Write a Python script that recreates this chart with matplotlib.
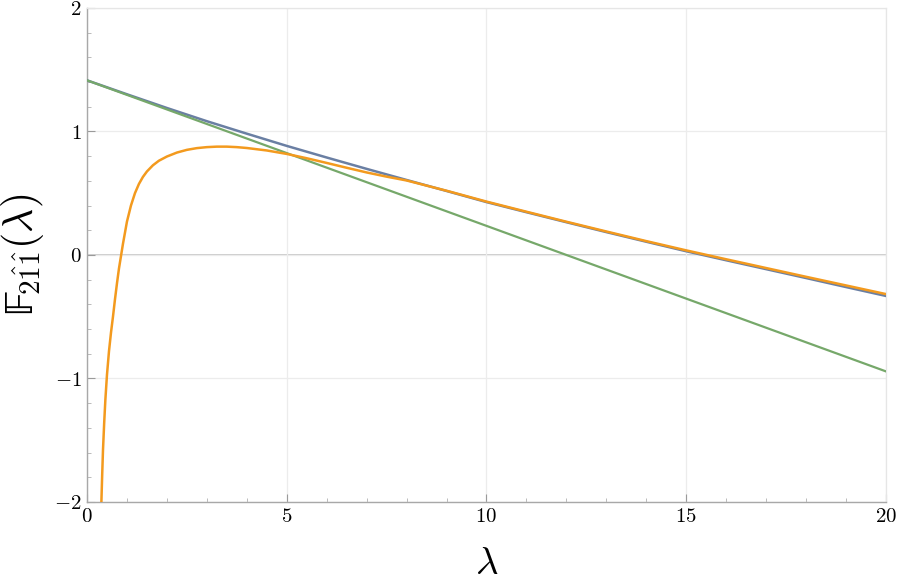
import numpy as np
import matplotlib.pyplot as plt
from matplotlib.ticker import MultipleLocator

plt.rcParams['mathtext.fontset'] = 'cm'
plt.rcParams['font.family'] = 'serif'
plt.rcParams['font.serif'] = ['DejaVu Serif']

# blue curve
x_blue = [0, 1, 2, 3, 4, 5, 6, 7, 8, 9, 10, 11, 12, 13, 14, 15, 16, 17, 18, 19, 20]
y_blue = [1.414, 1.301, 1.190, 1.083, 0.982, 0.883, 0.789, 0.697, 0.607, 0.518, 0.428,
          0.346, 0.265, 0.185, 0.107, 0.030, -0.043, -0.115, -0.187, -0.260, -0.332]

# orange curve
x_orange = [0.36, 0.38, 0.40, 0.43, 0.46, 0.50, 0.55, 0.60, 0.65, 0.70, 0.75, 0.80, 0.85,
            0.90, 0.95, 1.0, 1.1, 1.2, 1.3, 1.4, 1.5, 1.65, 1.8, 2.0, 2.25, 2.5, 2.75, 3.0,
            3.25, 3.5, 3.75, 4.0, 4.5, 5.0, 5.5, 6.0, 6.5, 7.0, 7.5, 8.0, 9.0, 10, 11, 12,
            13, 14, 15, 16, 17, 18, 19, 20]
y_orange = [-2.0, -1.78, -1.58, -1.36, -1.17, -0.97, -0.78, -0.63, -0.50, -0.36, -0.23,
            -0.11, -0.01, 0.09, 0.18, 0.27, 0.40, 0.50, 0.575, 0.632, 0.676, 0.726, 0.763,
            0.797, 0.829, 0.851, 0.865, 0.873, 0.877, 0.877, 0.873, 0.866, 0.846, 0.818,
            0.783, 0.745, 0.706, 0.668, 0.634, 0.603, 0.520, 0.432, 0.350, 0.269, 0.190,
            0.112, 0.037, -0.035, -0.106, -0.177, -0.247, -0.317]

# green line
x_green = [0, 20]
y_green = [1.414, -0.943]

fig = plt.figure(figsize=(8.97, 5.85), dpi=100)
ax = fig.add_axes([0.097, 0.142, 0.8907, 0.8444])

ax.plot(x_blue, y_blue, color='#6a7fa3', lw=1.8, zorder=3)
ax.plot(x_green, y_green, color='#76a86a', lw=1.6, zorder=4)
ax.plot(x_orange, y_orange, color='#f39a1e', lw=1.8, zorder=5)

ax.set_xlim(0, 20)
ax.set_ylim(-2, 2)
ax.set_xticks([0, 5, 10, 15, 20])
ax.set_yticks([-2, -1, 0, 1, 2])
ax.set_xticklabels(['$0$', '$5$', '$10$', '$15$', '$20$'])
ax.set_yticklabels(['$-2$', '$-1$', '$0$', '$1$', '$2$'])
ax.xaxis.set_minor_locator(MultipleLocator(1))
ax.yaxis.set_minor_locator(MultipleLocator(0.2))
ax.tick_params(which='major', direction='in', length=6, color='#9a9a9a', labelsize=15, pad=4)
ax.tick_params(which='minor', direction='in', length=3, color='#b0b0b0')
ax.tick_params(top=False, right=False)

ax.grid(True, which='major', color='#ececec', lw=0.9, zorder=0)
ax.axhline(0, color='#bdbdbd', lw=1.1, zorder=1)

for s in ['left', 'bottom']:
    ax.spines[s].set_color('#a8a8a8')
    ax.spines[s].set_linewidth(1.0)
for s in ['top', 'right']:
    ax.spines[s].set_color('#e6e6e6')
    ax.spines[s].set_linewidth(0.9)

ax.set_xlabel(r'$\lambda$', fontsize=28, labelpad=13)
ax.set_ylabel('$\U0001D53D_{2\\hat{1}\\hat{1}}(\\lambda)$', fontsize=30, labelpad=6)

fig.savefig('out.png', dpi=100)
